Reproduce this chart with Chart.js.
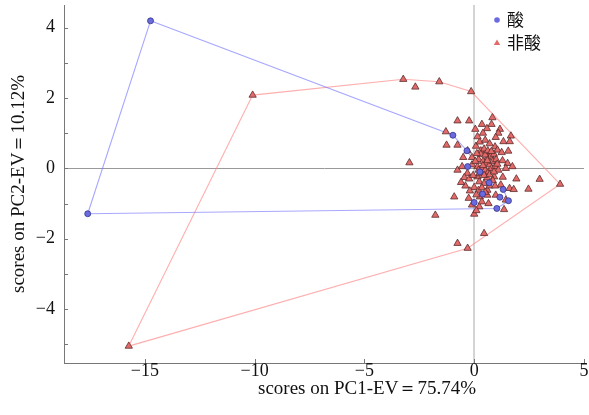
<!DOCTYPE html>
<html>
<head>
<meta charset="utf-8">
<script src="https://cdn.jsdelivr.net/npm/chart.js@4/dist/chart.umd.min.js"></script>
<style>
  html, body { margin: 0; padding: 0; background: #fff; }
  #wrap { position: relative; width: 589px; height: 415px; }
</style>
</head>
<body>
<div id="wrap"><canvas id="chart"></canvas></div>
<script>
/* PCA scores plot — 酸 vs 非酸, with hull outlines */

const xTitle = "scores on PC1-EV\uFF1D75.74%";
const yTitle = "scores on PC2-EV\uFF1D10.12%";
const groupNames = ["酸", "非酸"];

const xTicks = [-15, -10, -5, 0, 5];
const yTicks = [-5, -4, -3, -2, -1, 0, 1, 2, 3, 4];

// 酸 scores [PC1, PC2]
const acidX = [-14.74, -17.6, -0.97, -0.33, -0.3, 0.26, 0.68, 1.32, 1.17, 1.56, 0.38, 0.0, 1.03];
const acidY = [4.19, -1.29, 0.94, 0.5, 0.05, -0.1, -0.41, -0.6, -0.82, -0.92, -0.73, -0.97, -1.14];
// outline order (indices into the acid arrays)
const acidHull = [0, 2, 3, 6, 7, 9, 12, 1, 0];

// 非酸 scores [PC1, PC2]
const nonAcidX = [
  -15.73, -10.09, -3.23, -2.68, -1.59, -0.14, 3.91, 2.98, 2.47, 1.92,
  -0.3, -0.76, 0.45, -1.77, -2.95, 0.83, -0.76, -0.23, 0.35, 0.79,
  0.05, 0.58, -1.29, 1.17, 1.1, 1.67, 0.98, 1.33, 1.62, -1.26,
  -0.76, 0.08, 0.95, 1.55, 1.06, 0.68, -0.5, -0.1, 1.29, 1.52,
  1.74, 1.44, -0.76, -0.31, -0.45, -0.23, 0.15, 0.58, 0.91, 1.61,
  1.21, 0.23, 0.45, 0.0, -0.2, 0.2, 0.6, 0.98, -0.91, 0.26,
  0.6, -0.1, 0.23, 1.36, 0.0, 1.44, 0.3, 0.45, 0.6, 0.75,
  0.9, 0.2, 0.4, 0.55, 0.7, 0.85, 1.0, 0.15, 0.35, 0.5,
  0.65, 0.8, 0.95, 1.1, 0.25, 0.45, 0.7, 0.9, 0.3, 0.5,
  0.62, 0.12, 0.4, 0.6, 0.78, 1.05, 0.2, 0.85, 0.35, 0.5,
  0.1, -0.05, -0.1, 0.05, -0.3, -0.4, -0.6, 0.7, 0.95, 0.25,
  0.5, 0.7, 0.4, 0.15, 1.25, 1.3, -0.55, 1.8, 0.35, 0.65,
  -0.25, 0.1
];
const nonAcidY = [
  -5.05, 2.08, 2.53, 2.31, 2.46, 2.18, -0.45, -0.31, -0.59, -0.3,
  -2.27, -2.13, -1.85, -1.33, 0.16, 1.44, 1.35, 1.35, 1.25, 1.25,
  1.11, 1.13, 1.04, 1.11, 1.0, 0.92, 0.88, 0.76, 0.76, 0.66,
  0.66, 0.63, 0.61, 0.49, 0.52, 0.43, 0.31, 0.31, 0.22, 0.14,
  0.05, 0.0, -0.05, -0.14, -0.26, -0.3, -0.24, -0.27, -0.24, -0.57,
  -0.47, -0.38, -0.43, -0.54, -0.64, -0.62, -0.62, -0.76, -0.81, -0.81,
  -0.76, -1.04, -1.09, -1.17, -1.3, -0.9, 0.5, 0.55, 0.3, 0.35,
  0.4, 0.25, 0.2, 0.15, 0.1, 0.2, 0.25, 0.05, 0.0, -0.05,
  -0.1, 0.0, 0.05, -0.05, -0.15, -0.2, -0.18, -0.1, 0.4, 0.38,
  0.5, 0.42, 0.08, 0.22, 0.48, 0.12, -0.05, -0.35, -0.55, -0.68,
  -0.75, -0.2, 0.1, 0.2, 0.5, -0.5, -0.4, -0.5, -0.5, 0.75,
  0.8, 0.7, 1.0, 0.9, 0.45, -0.25, 0.05, -0.6, -0.95, -1.0,
  -0.85, -1.2
];
const nonAcidHull = [0, 1, 2, 4, 5, 6, 10, 0];

const BLUE_FILL = "#6b6be0";
const BLUE_EDGE = "#34348a";
const RED_FILL = "#e46a6a";
const RED_EDGE = "#5a2b2b";

function pts(xs, ys){
  return xs.map((x, i) => ({x: x, y: ys[i]}));
}
function hullPts(xs, ys, idx){
  return idx.map(i => ({x: xs[i], y: ys[i]}));
}
function fmt(v){
  return v < 0 ? "\u2212" + Math.abs(v) : String(v);
}

/* inward tick marks, x title, legend */
const decor = {
  id: "decor",
  afterDraw(chart){
    const {ctx, chartArea: a, scales: {x, y}} = chart;
    ctx.save();
    ctx.strokeStyle = "#777";
    ctx.lineWidth = 1;
    ctx.beginPath();
    x.ticks.forEach(t => {
      const px = Math.round(x.getPixelForValue(t.value)) + 0.5;
      ctx.moveTo(px, a.bottom); ctx.lineTo(px, a.bottom - 4);
    });
    y.ticks.forEach(t => {
      const py = Math.round(y.getPixelForValue(t.value)) + 0.5;
      ctx.moveTo(a.left, py); ctx.lineTo(a.left + 4, py);
    });
    ctx.stroke();

    // x axis title
    ctx.fillStyle = "#111";
    ctx.font = "19px 'Liberation Serif', serif";
    ctx.textAlign = "center";
    ctx.textBaseline = "alphabetic";
    ctx.fillText(xTitle, 367, 394);

    // legend
    const lx = 497, ly = [20, 43];
    chart.data.datasets.filter(d => d.inLegend).forEach((d, i) => {
      ctx.fillStyle = d.backgroundColor;
      ctx.beginPath();
      if (d.pointStyle === "triangle") {
        ctx.moveTo(lx, ly[i] - 3.5);
        ctx.lineTo(lx + 3.2, ly[i] + 2);
        ctx.lineTo(lx - 3.2, ly[i] + 2);
        ctx.closePath();
      } else {
        ctx.arc(lx, ly[i], 2.8, 0, Math.PI * 2);
      }
      ctx.fill();
      ctx.fillStyle = "#111";
      ctx.font = "17px 'Noto Sans CJK SC', sans-serif";
      ctx.textAlign = "left";
      ctx.textBaseline = "middle";
      ctx.fillText(d.label, 507, ly[i]);
    });
    ctx.restore();
  }
};

Chart.defaults.font.family = "'Liberation Serif', 'Times New Roman', serif";
Chart.defaults.color = "#111";

new Chart(document.getElementById("chart"), {
  type: "scatter",
  data: {
    datasets: [
      {
        label: groupNames[0],
        inLegend: true,
        data: pts(acidX, acidY),
        pointStyle: "circle",
        pointRadius: 3,
        pointBorderWidth: 0.8,
        backgroundColor: BLUE_FILL,
        borderColor: BLUE_EDGE,
        order: 0
      },
      {
        label: groupNames[1],
        inLegend: true,
        data: pts(nonAcidX, nonAcidY),
        pointStyle: "triangle",
        pointRadius: 4.2,
        pointBorderWidth: 0.8,
        backgroundColor: RED_FILL,
        borderColor: RED_EDGE,
        order: 1
      },
      {
        label: groupNames[0] + " hull",
        data: hullPts(acidX, acidY, acidHull),
        showLine: true,
        pointRadius: 0,
        borderColor: "rgba(120,120,255,0.65)",
        borderWidth: 1.1,
        fill: false,
        order: 2
      },
      {
        label: groupNames[1] + " hull",
        data: hullPts(nonAcidX, nonAcidY, nonAcidHull),
        showLine: true,
        pointRadius: 0,
        borderColor: "rgba(255,130,130,0.65)",
        borderWidth: 1.1,
        fill: false,
        order: 3
      }
    ]
  },
  options: {
    responsive: true,
    maintainAspectRatio: false,
    animation: false,
    layout: { padding: { top: 5, right: 3, left: 0, bottom: 0 } },
    plugins: {
      legend: { display: false },
      tooltip: { enabled: false }
    },
    scales: {
      x: {
        type: "linear",
        min: -18.68,
        max: 5,
        afterBuildTicks: s => { s.ticks = xTicks.map(v => ({value: v})); },
        afterFit: s => { s.height = 52; s.paddingLeft = 0; s.paddingRight = 0; },
        ticks: { callback: v => fmt(v), font: { size: 18 }, padding: -3, maxRotation: 0 },
        grid: {
          drawTicks: false,
          color: c => c.tick && c.tick.value === 0 ? "#d4d4d4" : "rgba(0,0,0,0)",
          lineWidth: c => c.tick && c.tick.value === 0 ? 2 : 0
        },
        border: { display: true, color: "#777", width: 1 }
      },
      y: {
        type: "linear",
        min: -5.53,
        max: 4.64,
        afterBuildTicks: s => { s.ticks = yTicks.map(v => ({value: v})); },
        afterFit: s => { s.width = 64; s.paddingTop = 0; s.paddingBottom = 0; },
        ticks: { callback: v => (v % 2 === 0 ? fmt(v) : ""), font: { size: 18 }, padding: 9 },
        title: { display: true, text: yTitle, font: { size: 19 }, padding: { top: 8, bottom: 0 } },
        grid: {
          drawTicks: false,
          color: c => c.tick && c.tick.value === 0 ? "#999" : "rgba(0,0,0,0)",
          lineWidth: c => c.tick && c.tick.value === 0 ? 1 : 0
        },
        border: { display: true, color: "#777", width: 1 }
      }
    }
  },
  plugins: [decor]
});
</script>
</body>
</html>
